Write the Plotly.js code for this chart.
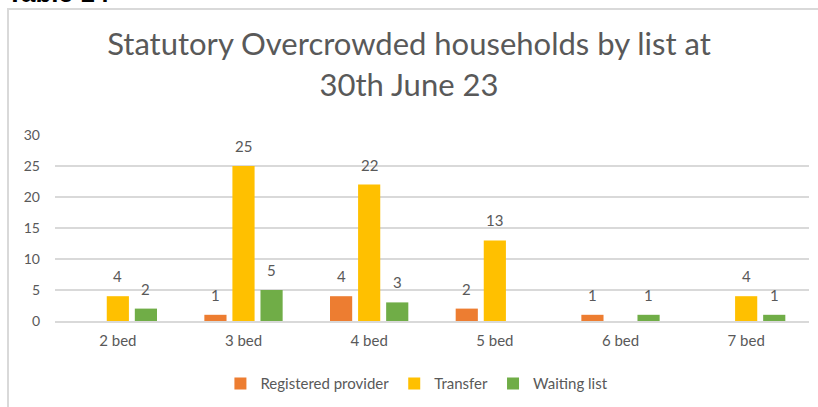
<!DOCTYPE html>
<html>
<head>
<meta charset="utf-8">
<script src="https://cdn.plot.ly/plotly-3.0.1.min.js"></script>
<style>
  html, body { margin: 0; padding: 0; background: #fff; overflow: hidden; }
  #wrap { position: relative; width: 818px; height: 407px; overflow: hidden; }
  #cap { position: absolute; left: 7px; top: -20px; font: bold 26px "Liberation Sans", Arial, sans-serif; line-height: 1; color: #000; white-space: nowrap; }
  #frame { position: absolute; left: 7px; top: 8px; width: 830px; height: 420px; border-left: 2px solid #d9d9d9; border-top: 2px solid #d9d9d9; box-sizing: border-box; }
  #chart { position: absolute; left: 0; top: 0; width: 818px; height: 407px; }
</style>
</head>
<body>
<div id="wrap">
  <div id="cap">Table 14</div>
  <div id="frame"></div>
  <div id="chart"></div>
</div>
<script>
const categories = ["2 bed", "3 bed", "4 bed", "5 bed", "6 bed", "7 bed"];
const registeredProvider = [null, 1, 4, 2, 1, null];
const transfer = [4, 25, 22, 13, null, 4];
const waitingList = [2, 5, 3, null, 1, 1];
const seriesNames = ["Registered provider", "Transfer", "Waiting list"];
const yTicks = [0, 5, 10, 15, 20, 25, 30];

const colors = ["#ED7D31", "#FFC000", "#70AD47"];
const series = [registeredProvider, transfer, waitingList];
const offsets = [-28, 0, 28];
const textColor = "#595959";
const fontFam = "Lato, 'Open Sans', sans-serif";

const traces = series.map((vals, i) => ({
  type: "bar",
  name: seriesNames[i],
  x: categories,
  y: vals,
  marker: { color: colors[i] },
  hoverinfo: "x+y+name"
}));

const annotations = [];
series.forEach((vals, i) => {
  vals.forEach((v, j) => {
    if (v === null) return;
    annotations.push({
      x: categories[j], y: v, xref: "x", yref: "y",
      text: String(v), showarrow: false,
      xshift: offsets[i], yshift: 20, yanchor: "middle",
      font: { family: fontFam, size: 15, color: textColor }
    });
  });
});

const layout = {
  width: 818, height: 407,
  paper_bgcolor: "rgba(0,0,0,0)",
  plot_bgcolor: "rgba(0,0,0,0)",
  margin: { l: 55, r: 9, t: 135, b: 86, autoexpand: false },
  title: {
    text: "Statutory Overcrowded households by list at<br>30th June 23",
    font: { family: fontFam, size: 31, color: textColor },
    x: 0.5, xanchor: "center", y: 0.864, yanchor: "top", yref: "container"
  },
  barmode: "group",
  bargap: 0.33,
  bargroupgap: 0.21,
  xaxis: {
    type: "category",
    automargin: false,
    tickfont: { family: fontFam, size: 15, color: textColor },
    showgrid: false, zeroline: false, showline: true,
    linecolor: "#D9D9D9", linewidth: 1.5,
    ticks: "", ticklabelstandoff: 5
  },
  yaxis: {
    range: [0, 30],
    automargin: false,
    tickvals: yTicks,
    ticktext: yTicks.map(String),
    tickfont: { family: fontFam, size: 14, color: textColor },
    showgrid: true, gridcolor: "#D9D9D9", gridwidth: 1.5,
    zeroline: false, showline: false, ticks: "", ticklabelstandoff: 14
  },
  legend: {
    orientation: "h", x: 0.48, xanchor: "center", y: -0.249, yanchor: "top",
    font: { family: fontFam, size: 15, color: textColor },
    itemwidth: 30, traceorder: "normal"
  },
  annotations: annotations,
  showlegend: true
};

Plotly.newPlot("chart", traces, layout, { displayModeBar: false, staticPlot: true });
</script>
</body>
</html>
